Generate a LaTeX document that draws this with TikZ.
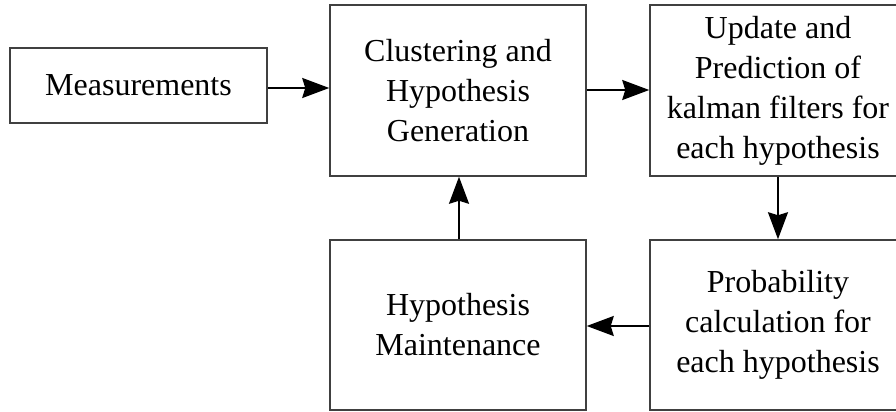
\documentclass[tikz,border=0pt]{standalone}
\usepackage{fontspec}
\setmainfont{Liberation Serif}
\usetikzlibrary{arrows.meta}
\begin{document}
\begin{tikzpicture}[x=0.5pt,y=-0.5pt,
  block/.style={draw=black!75,line width=0.75pt,rectangle,align=center,
    inner sep=0pt,font=\fontsize{16}{20}\selectfont},
  flow/.style={line width=1pt,-{Stealth[length=13.5pt,width=10pt,inset=1.5pt]}}]
  \useasboundingbox (0,0) rectangle (896,412);
  \node[block,minimum width=128.5pt,minimum height=37.5pt] (meas) at (138.5,85.5) {Measurements};
  \node[block,minimum width=128pt,minimum height=85.5pt] (clus) at (458,90.5) {Clustering and\\Hypothesis\\Generation};
  \node[block,minimum width=128pt,minimum height=85.5pt] (upd) at (778,90.5) {Update and\\Prediction of\\kalman filters for\\each hypothesis};
  \node[block,minimum width=128pt,minimum height=85pt] (prob) at (778,325) {Probability\\calculation for\\each hypothesis};
  \node[block,minimum width=128pt,minimum height=85pt] (maint) at (458,325) {Hypothesis\\Maintenance};
  \draw[flow] (meas.east |- 0,88) -- (clus.west |- 0,88);
  \draw[flow] (clus.east |- 0,90) -- (upd.west |- 0,90);
  \draw[flow] (upd) -- (prob);
  \draw[flow] (prob.west |- 0,326) -- (maint.east |- 0,326);
  \draw[flow] (maint.north -| 459,0) -- (clus.south -| 459,0);
\end{tikzpicture}
\end{document}
